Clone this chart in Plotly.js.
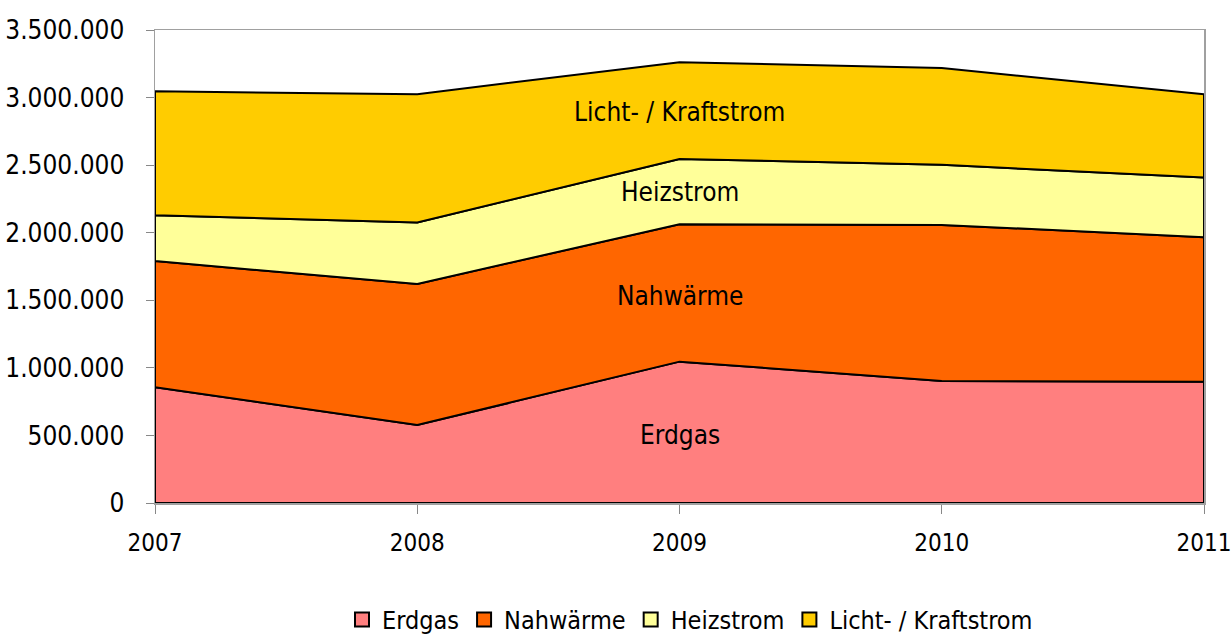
<!DOCTYPE html>
<html>
<head>
<meta charset="utf-8">
<script src="https://cdn.plot.ly/plotly-3.0.1.min.js"></script>
<style>html,body{margin:0;padding:0;background:#fff;}#chart{width:1232px;height:635px;}</style>
</head>
<body>
<div id="chart"></div>
<script>
const years = [2007, 2008, 2009, 2010, 2011];
const erdgas = [856000, 577000, 1046000, 903000, 898000];
const nahwaerme = [934000, 1044000, 1017000, 1155000, 1069000];
const heizstrom = [339000, 454000, 483000, 444000, 441000];
const lichtKraftstrom = [917000, 950000, 716000, 716000, 617000];
const seriesNames = ['Erdgas', 'Nahwärme', 'Heizstrom', 'Licht- / Kraftstrom'];
const seriesColors = ['#ff7f7f', '#ff6600', '#ffff99', '#ffcc00'];
const yTickVals = [0, 500000, 1000000, 1500000, 2000000, 2500000, 3000000, 3500000];

const FONT = '"DejaVu Sans Condensed", "Liberation Sans Narrow", sans-serif';
const allSeries = [erdgas, nahwaerme, heizstrom, lichtKraftstrom];

let lower = years.map(() => 0);
const traces = [];
allSeries.forEach((vals, i) => {
  const upper = lower.map((l, k) => l + vals[k]);
  const xs = years.concat(years.slice().reverse(), [years[0]]);
  const ys = upper.concat(lower.slice().reverse(), [upper[0]]);
  traces.push({
    type: 'scatter', mode: 'lines', x: xs, y: ys,
    fill: 'toself', fillcolor: seriesColors[i],
    line: {color: '#000', width: 2},
    name: seriesNames[i], showlegend: false, hoverinfo: 'skip'
  });
  lower = upper;
});
// legend entries (square swatches like the original)
allSeries.forEach((vals, i) => {
  traces.push({
    type: 'scatter', mode: 'markers', x: [null], y: [null],
    marker: {symbol: 'square', size: 14, color: seriesColors[i], line: {color: '#000', width: 2}},
    name: seriesNames[i], showlegend: true, hoverinfo: 'skip'
  });
});

const layout = {
  width: 1232, height: 635,
  margin: {l: 155, r: 28, t: 30, b: 132, autoexpand: false},
  paper_bgcolor: '#fff', plot_bgcolor: '#fff',
  separators: ',.',
  font: {family: FONT, size: 26, color: '#000'},
  showlegend: true,
  legend: {orientation: 'h', x: 0.51, xanchor: 'center', y: -0.247, yanchor: 'middle',
           font: {family: FONT, size: 25, color: '#000'}, traceorder: 'normal',
           itemwidth: 30, tracegroupgap: 0, bgcolor: 'rgba(0,0,0,0)'},
  xaxis: {range: [2007, 2011], tickvals: years, ticktext: years.map(String),
          showline: true, mirror: true, linecolor: '#a0a0a0', linewidth: 1.5,
          ticks: 'outside', ticklen: 9, tickcolor: '#888', tickwidth: 1,
          showgrid: false, zeroline: false, layer: 'below traces',
          ticklabeloverflow: 'allow',
          ticklabelstandoff: 9, tickfont: {family: FONT, size: 24, color: '#000'}},
  yaxis: {range: [0, 3500000], tickvals: yTickVals, tickformat: ',d',
          showline: true, mirror: true, linecolor: '#a0a0a0', linewidth: 1.5,
          ticks: 'outside', ticklen: 8, tickcolor: '#888', tickwidth: 1,
          showgrid: false, zeroline: false, layer: 'below traces',
          ticklabelstandoff: 16, tickfont: {family: FONT, size: 26, color: '#000'}},
  annotations: [
    {x: 2009, y: 2894000, xref: 'x', yref: 'y', text: 'Licht- / Kraftstrom', showarrow: false, font: {family: FONT, size: 26, color: '#000'}},
    {x: 2009, y: 2302000, xref: 'x', yref: 'y', text: 'Heizstrom', showarrow: false, font: {family: FONT, size: 26, color: '#000'}},
    {x: 2009, y: 1532000, xref: 'x', yref: 'y', text: 'Nahwärme', showarrow: false, font: {family: FONT, size: 26, color: '#000'}},
    {x: 2009, y: 503000, xref: 'x', yref: 'y', text: 'Erdgas', showarrow: false, font: {family: FONT, size: 26, color: '#000'}}
  ]
};

Plotly.newPlot('chart', traces, layout, {displayModeBar: false, staticPlot: true});
</script>
</body>
</html>
